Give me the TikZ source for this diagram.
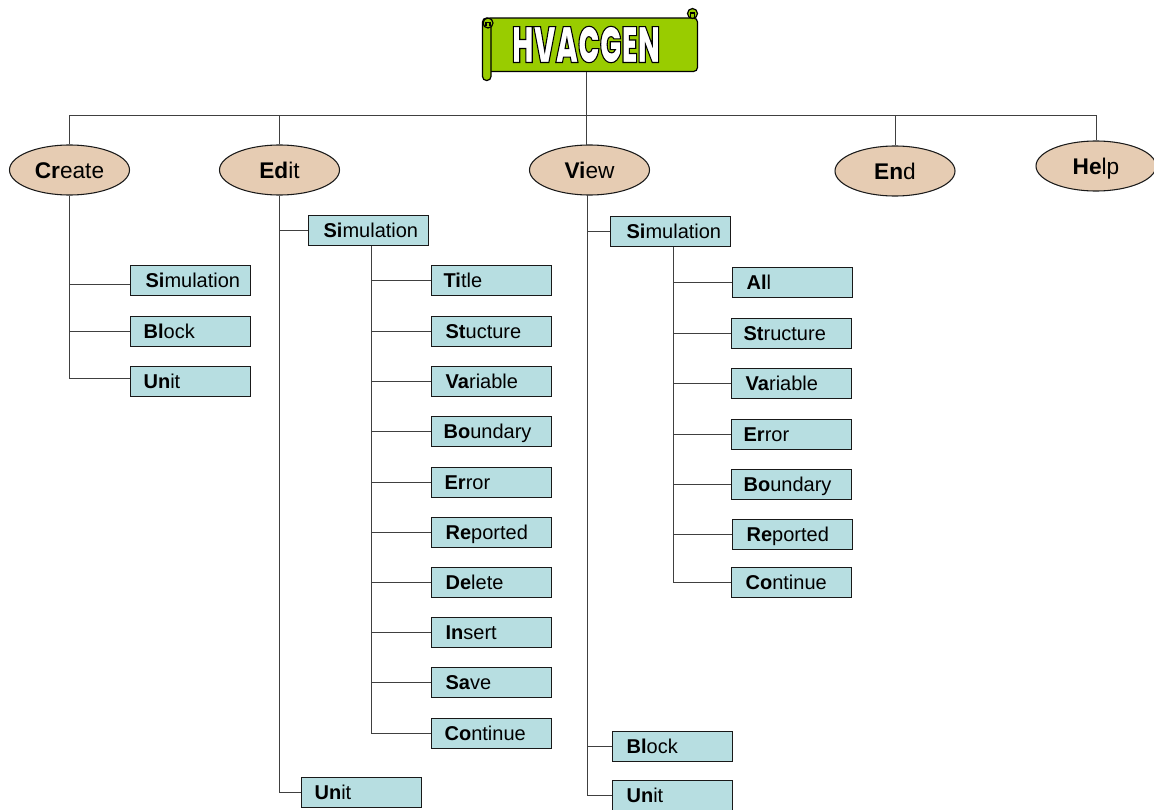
\documentclass[tikz,border=0pt]{standalone}
\usepackage{fontspec}
\setmainfont{Liberation Sans}
\newfontfamily\bannerfont[UprightFont=* Black,FakeStretch=0.57]{Poppins}
\usetikzlibrary{shapes.geometric}
\definecolor{bannergreen}{HTML}{99CC00}
\definecolor{menufill}{HTML}{E6CCB3}
\definecolor{itemfill}{HTML}{B7DEE1}
\begin{document}
\begin{tikzpicture}[x=0.75pt,y=-0.75pt,
menu/.style={ellipse,draw=black!90,fill=menufill,line width=0.8pt,minimum width=90pt,minimum height=37.5pt,inner sep=0pt,text height=12pt,text depth=0pt,font=\fontsize{17}{20}\selectfont},
item/.style={draw=black!90,fill=itemfill,line width=0.95pt,anchor=north west,minimum height=22.6pt,text width=90pt,inner sep=0pt,align=left,text height=10.7pt,text depth=0pt,font=\fontsize{15}{18}\selectfont},
link/.style={black!75,line width=0.75pt},
scroll/.style={draw=black,fill=bannergreen,line width=0.9pt}]
\useasboundingbox (0,0) rectangle (1154,810);
\fill[white] (0,0) rectangle (1154,810);
\draw[scroll,rounded corners=3pt] (486,18) rectangle (697.5,71.5);
\draw[scroll,rounded corners=3pt] (482.5,18) rectangle (491,80.5);
\draw[scroll] (488,23) circle[radius=5];
\draw[scroll] (692.5,13.5) circle[radius=5];
\draw[line width=0.9pt] (486,26) -- (486,22.5) -- (490,22.5) -- (490,26);
\draw[line width=0.9pt] (690.5,17) -- (690.5,13) -- (694.5,13) -- (694.5,17);
\node (banner) at (586,44.5) {\bannerfont\fontsize{38}{40}\selectfont\special{pdf:code 2 Tr 0.8 w 0 0 0 RG 1 1 1 rg}HVACGEN\special{pdf:code 0 Tr}};
\foreach \nm/\x/\y/\txt in {create/69.5/170/{\textbf{Cr}eate},edit/279.5/170/{\textbf{Ed}it},view/589.5/170/{\textbf{Vi}ew},end/895/171/{\textbf{En}d},help/1096/166/{\textbf{He}lp}}
\node[menu] (\nm) at (\x,\y) {\txt};
\foreach \nm/\x/\y/\pad/\hd/\tl in {
csim/130/265/11.25/Si/mulation,cblock/130/315.5/9.75/Bl/ock,cunit/130/366/9.75/Un/it,
esim/308/215/11.25/Si/mulation,eunit/301/777/9.75/Un/it,
etitle/431/265/9/Ti/tle,estruct/431/315.5/10.5/St/ucture,evar/431/366/10.5/Va/riable,ebound/431/416/9/Bo/undary,eerror/431/466.5/9.75/Er/ror,erep/431/517/10.5/Re/ported,edel/431/567/10.5/De/lete,eins/431/617/10.5/In/sert,esave/431/667/10.5/Sa/ve,econt/431/718/9.75/Co/ntinue,
vsim/610/216/12/Si/mulation,vblock/612/730.5/10.5/Bl/ock,vunit/612/780/10.5/Un/it,
vall/732/267/10.5/Al/l,vstruct/731/318/9/St/ructure,vvar/731/368/10.5/Va/riable,verror/731/418.5/9/Er/ror,vbound/731/469/9/Bo/undary,vrep/732/519/10.5/Re/ported,vcont/731/566.5/10.5/Co/ntinue}
\node[item] (\nm) at (\x,\y) {\hspace*{\pad pt}\textbf{\hd}\tl};
\coordinate (bannerfoot) at (586,72);
\coordinate (bus) at (586,115);
\coordinate (viewtop) at (586,145);
\coordinate (viewfoot) at (587,195);
\coordinate (esimfoot) at (371,246);
\coordinate (vsimfoot) at (673,247);
\draw[link] (bannerfoot) -- (viewtop);
\draw[link] foreach \nm in {create,edit,end,help} {(bus) -| (\nm.north)};
\draw[link] foreach \nm/\d in {csim/-2.6pt,cblock/0pt,cunit/2.2pt} {(create.south) |- ([yshift=\d]\nm.west)};
\draw[link] foreach \nm in {esim,eunit} {(edit.south) |- (\nm.west)};
\draw[link] foreach \nm in {etitle,estruct,evar,ebound,eerror,erep,edel,eins,esave,econt} {(esimfoot) |- (\nm.west)};
\draw[link] foreach \nm in {vsim,vblock,vunit} {(viewfoot) |- (\nm.west)};
\draw[link] foreach \nm in {vall,vstruct,vvar,verror,vbound,vrep,vcont} {(vsimfoot) |- (\nm.west)};
\end{tikzpicture}
\end{document}
